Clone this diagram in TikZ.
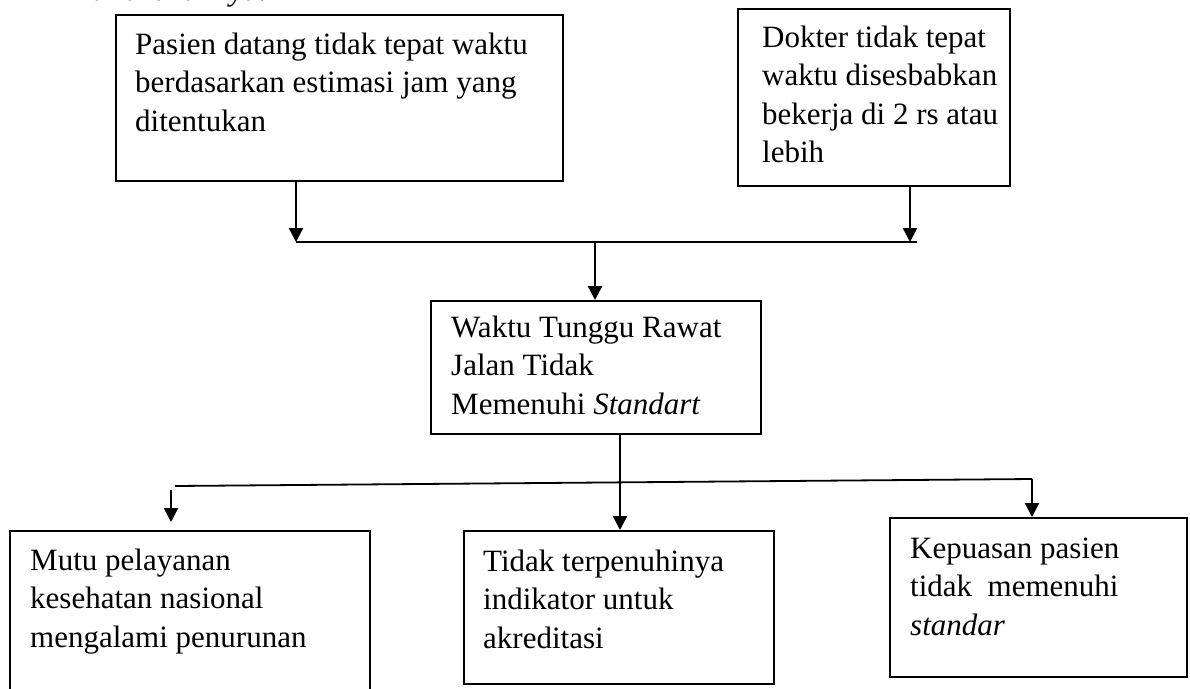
\documentclass[tikz,border=0pt]{standalone}
\usepackage{fontspec}
\setmainfont{Liberation Serif}
\usetikzlibrary{arrows.meta}
\tikzset{
  box/.style={draw, line width=1.6pt, anchor=north west, inner sep=0pt},
  txt/.style={anchor=north west, inner sep=0pt, align=left, font=\fontsize{31}{38.5}\selectfont},
  line/.style={line width=1.8pt},
  arr/.style={line width=2.4pt, -{Triangle[length=14pt,width=14pt]}}
}
\newcommand{\fl}{\rule{0pt}{23pt}}
\begin{document}
\begin{tikzpicture}[x=1pt,y=-1pt]
\clip (0,0) rectangle (1190,688);
\fill[white] (0,0) rectangle (1190,688);
% clipped text from above
\node[anchor=base west, inner sep=0pt, font=\fontsize{31}{38.5}\selectfont\itshape] (top) at (92,1) {dilakukannya.};
% boxes
\node[box, minimum width=447pt, minimum height=166pt] (b1) at (115,14) {};
\node[box, minimum width=272pt, minimum height=177pt] (b2) at (737,8) {};
\node[box, minimum width=330pt, minimum height=133pt] (b3) at (430,300) {};
\node[box, minimum width=360pt, minimum height=170pt] (b6) at (9,530) {};
\node[box, minimum width=310pt, minimum height=153pt] (b4) at (463,530) {};
\node[box, minimum width=297pt, minimum height=159pt] (b5) at (889,517) {};
% texts
\node[txt] (t1) at (135,31) {\fl Pasien datang tidak tepat waktu\\berdasarkan estimasi jam yang\\ditentukan};
\node[txt] (t2) at (762,24) {\fl Dokter tidak tepat\\waktu disesbabkan\\bekerja di 2 rs atau\\lebih};
\node[txt] (t3) at (451,314) {\fl Waktu Tunggu Rawat\\Jalan Tidak\\Memenuhi \textit{Standart}};
\node[txt] (t6) at (30,547) {\fl Mutu pelayanan\\kesehatan nasional\\mengalami penurunan};
\node[txt] (t4) at (483,548) {\fl Tidak terpenuhinya\\indikator untuk\\akreditasi};
\node[txt] (t5) at (910,535) {\fl Kepuasan pasien\\tidak\ \ memenuhi\\\textit{standar}};
% connector points
\coordinate (j1) at (296,242);
\coordinate (j2) at (910,242);
\coordinate (j2e) at (917,242);
\coordinate (jc) at (595,241);
\coordinate (k) at (620,483);
\coordinate (hl) at (175,486);
\coordinate (hr) at (1032,479);
\coordinate (la) at (171,490);
\coordinate (lb) at (171,522);
% upper connectors
\draw[arr] (b1.south -| j1) -- (j1);
\draw[arr] (b2.south -| j2) -- (j2);
\draw[line] (j1) -- (j2e);
\draw[arr] (jc) -- (b3.north -| jc);
% lower connectors
\draw[arr] (b3.south -| k) -- (b4.north -| k);
\draw[line] (hl) -- (hr);
\draw[arr] (hr) -- (b5.north -| hr);
\draw[arr] (la) -- (lb);
\end{tikzpicture}
\end{document}
